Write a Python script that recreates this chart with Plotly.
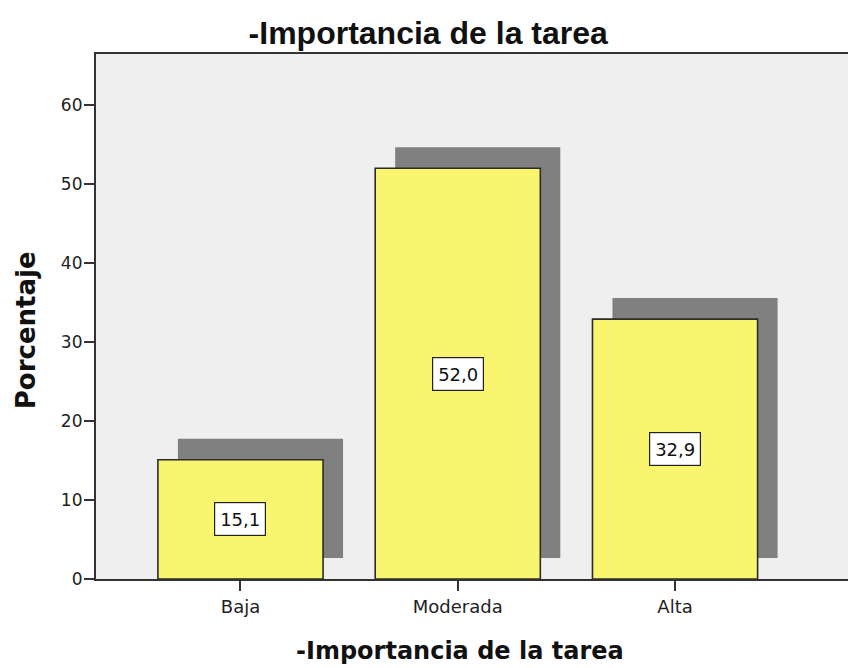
import plotly.graph_objects as go

# Frequency table: percentage of respondents per level
categories = ["Baja", "Moderada", "Alta"]
percentages = [15.1, 52.0, 32.9]
value_labels = ["15,1", "52,0", "32,9"]
y_ticks = [0, 10, 20, 30, 40, 50, 60]

positions = list(range(len(categories)))

# Drop shadow offset (in axis units) and bar width
shadow_dx = 0.092
shadow_dy = 2.66
bar_width = 0.76

fig = go.Figure()

# Shadow bars, shifted right and up
fig.add_trace(go.Bar(
    x=[p + shadow_dx for p in positions],
    y=percentages,
    base=[shadow_dy] * len(percentages),
    width=bar_width,
    marker=dict(color="#808080", line=dict(width=0)),
    hoverinfo="skip",
    showlegend=False,
))

# Main bars
fig.add_trace(go.Bar(
    x=positions,
    y=percentages,
    width=bar_width,
    marker=dict(color="#F9F56F", line=dict(color="#2b2b2b", width=1.6)),
    showlegend=False,
))

# Value boxes centred in each bar
for p, v, lab in zip(positions, percentages, value_labels):
    fig.add_annotation(
        x=p, y=v / 2, text=lab, showarrow=False,
        font=dict(family="DejaVu Sans", size=18, color="#111111"),
        bgcolor="#ffffff", bordercolor="#222222", borderwidth=1.2,
        width=48, height=30, xanchor="center", yanchor="middle",
    )

# Axis titles
fig.add_annotation(
    xref="paper", yref="paper", x=0.484, y=-0.137,
    text="-Importancia de la tarea", showarrow=False,
    xanchor="center", yanchor="middle",
    font=dict(family="DejaVu Sans", size=24, color="#111111", weight="bold"),
)
fig.add_annotation(
    xref="paper", yref="paper", x=-0.093, y=0.474,
    text="Porcentaje", showarrow=False, textangle=-90,
    xanchor="center", yanchor="middle",
    font=dict(family="DejaVu Sans", size=26, color="#111111", weight="bold"),
)

fig.update_layout(
    width=848, height=668,
    margin=dict(l=96, r=0, t=54, b=89),
    paper_bgcolor="#ffffff",
    plot_bgcolor="#EFEFEF",
    barmode="overlay",
    title=dict(
        text="-Importancia de la tarea",
        x=0.505, xanchor="center", y=0.951, yanchor="middle",
        font=dict(family="Liberation Sans, Arial", size=32, color="#111111", weight="bold"),
    ),
    xaxis=dict(
        range=[-0.665, 2.796],
        tickmode="array", tickvals=positions, ticktext=categories,
        ticks="outside", ticklen=10, tickwidth=1.5, tickcolor="#333333",
        tickfont=dict(family="DejaVu Sans", size=18, color="#222222"),
        showgrid=False, zeroline=False,
        showline=True, linecolor="#333333", linewidth=2.2, mirror=True,
    ),
    yaxis=dict(
        range=[0, 66.46],
        tickmode="array", tickvals=y_ticks,
        ticks="outside", ticklen=10, tickwidth=1.5, tickcolor="#333333",
        ticklabelstandoff=-2,
        tickfont=dict(family="DejaVu Sans", size=17, color="#222222"),
        showgrid=False, zeroline=False,
        showline=True, linecolor="#333333", linewidth=2.2, mirror=False,
    ),
)

fig.write_html("out.html")
